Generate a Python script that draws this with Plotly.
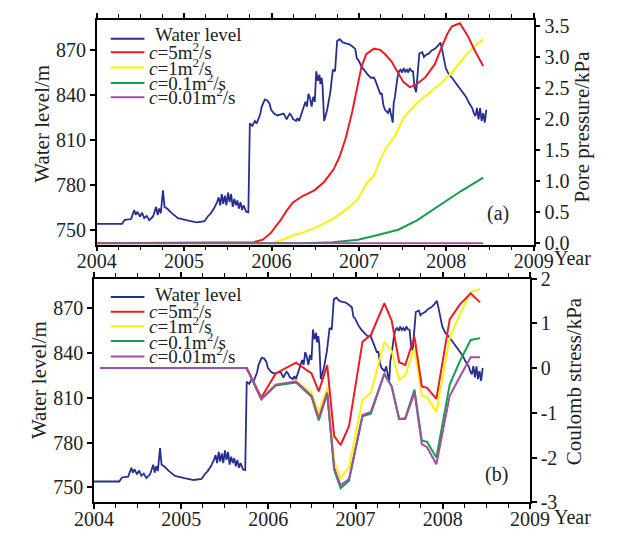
import plotly.graph_objects as go

W, H = 622, 542
FONT = "Liberation Serif"

# ---------------- data ----------------
wl_year = [2004.00, 2004.29, 2004.322, 2004.393, 2004.429, 2004.447, 2004.465, 2004.494, 2004.519, 2004.544,
           2004.572, 2004.601, 2004.644, 2004.68, 2004.697, 2004.715, 2004.733, 2004.758, 2004.776, 2004.805,
           2004.858, 2004.93, 2005.037, 2005.144, 2005.234, 2005.27, 2005.305, 2005.341, 2005.377, 2005.395,
           2005.413, 2005.431, 2005.448, 2005.466, 2005.484, 2005.502, 2005.52, 2005.538, 2005.556, 2005.574,
           2005.592, 2005.609, 2005.627, 2005.645, 2005.663, 2005.681, 2005.71, 2005.735, 2005.752, 2005.781,
           2005.799, 2005.81, 2005.83, 2005.85, 2005.87, 2005.888, 2005.906, 2005.923, 2005.95, 2005.977,
           2005.995, 2006.03, 2006.066, 2006.102, 2006.138, 2006.155, 2006.173, 2006.191, 2006.209, 2006.227,
           2006.245, 2006.281, 2006.298, 2006.316, 2006.352, 2006.37, 2006.388, 2006.405, 2006.423, 2006.441,
           2006.459, 2006.477, 2006.495, 2006.512, 2006.53, 2006.548, 2006.559, 2006.573, 2006.584, 2006.602,
           2006.637, 2006.673, 2006.702, 2006.727, 2006.751, 2006.78, 2006.816, 2006.85, 2006.887, 2006.923,
           2006.958, 2006.976, 2006.994, 2007.03, 2007.066, 2007.101, 2007.137, 2007.173, 2007.19, 2007.208,
           2007.244, 2007.262, 2007.28, 2007.298, 2007.334, 2007.352, 2007.369, 2007.387, 2007.398, 2007.412,
           2007.441, 2007.459, 2007.476, 2007.495, 2007.512, 2007.53, 2007.548, 2007.565, 2007.583, 2007.601,
           2007.619, 2007.637, 2007.655, 2007.673, 2007.691, 2007.726, 2007.744, 2007.762, 2007.798, 2007.833,
           2007.869, 2007.905, 2007.933, 2007.958, 2007.994, 2008.03, 2008.065, 2008.119, 2008.172, 2008.226,
           2008.262, 2008.297, 2008.315, 2008.333, 2008.351, 2008.369, 2008.387, 2008.404, 2008.422, 2008.44,
           2008.458]
wl_level = [753.9, 753.9, 756.6, 757.1, 763.1, 759.8, 762.0, 758.8, 761.3, 757.7,
            759.2, 756.2, 758.8, 765.2, 759.8, 764.1, 760.9, 776.3, 765.2, 764.1,
            761.0, 757.7, 756.2, 754.9, 755.6, 758.8, 760.9, 764.1, 768.4, 771.6,
            766.3, 773.8, 767.3, 772.7, 766.3, 774.8, 768.4, 773.8, 765.2, 770.6,
            766.3, 769.5, 764.1, 768.4, 763.1, 766.3, 762.0, 761.6, 820.9, 819.4,
            821.5, 822.5, 821.0, 824.0, 826.9, 832.2, 835.4, 836.9, 836.5, 834.3,
            830.1, 827.5, 826.3, 826.9, 827.5, 825.8, 823.7, 825.8, 827.5, 826.3,
            824.0, 822.6, 824.5, 822.6, 829.0, 833.3, 835.4, 832.2, 840.8, 837.6,
            832.2, 838.7, 835.4, 855.8, 849.4, 853.6, 847.2, 851.5, 846.2, 822.6,
            830.1, 841.9, 856.9, 855.8, 876.1, 877.2, 875.1, 874.5, 874.0, 872.5,
            870.8, 864.4, 863.3, 859.0, 855.8, 853.6, 851.5, 851.5, 849.4, 846.2,
            840.8, 840.8, 833.3, 830.1, 827.9, 831.2, 825.8, 821.5, 834.4, 838.7,
            851.5, 855.8, 856.9, 855.0, 857.9, 855.5, 856.9, 855.0, 857.9, 856.0,
            855.8, 845.1, 841.9, 857.9, 867.6, 868.6, 865.4, 866.5, 867.6, 869.7,
            870.8, 872.9, 875.1, 868.6, 857.9, 853.6, 851.5, 847.2, 843.0, 838.7,
            834.4, 831.2, 827.9, 825.8, 831.4, 823.7, 831.2, 822.6, 827.9, 821.5,
            830.1]

# pore pressure (kPa), panel (a)
pp5_year = [2004.0, 2005.0, 2005.8, 2005.9, 2005.995, 2006.05, 2006.102, 2006.17, 2006.245, 2006.352,
            2006.495, 2006.602, 2006.709, 2006.78, 2006.852, 2006.923, 2006.977, 2007.03, 2007.084, 2007.173,
            2007.245, 2007.3, 2007.37, 2007.44, 2007.51, 2007.583, 2007.655, 2007.762, 2007.869, 2007.94,
            2008.012, 2008.065, 2008.155, 2008.244, 2008.333, 2008.422]
pp5 = [0.0, 0.005, 0.02, 0.06, 0.17, 0.28, 0.37, 0.52, 0.66, 0.76,
       0.86, 0.99, 1.19, 1.40, 1.71, 2.12, 2.48, 2.85, 3.05, 3.14,
       3.12, 3.05, 2.94, 2.76, 2.60, 2.52, 2.56, 2.68, 2.89, 3.14,
       3.38, 3.50, 3.55, 3.35, 3.09, 2.86]
pp1_year = [2004.0, 2006.0, 2006.15, 2006.25, 2006.352, 2006.53, 2006.709, 2006.887, 2006.995, 2007.1,
            2007.173, 2007.244, 2007.316, 2007.41, 2007.51, 2007.655, 2007.8, 2007.94, 2008.08, 2008.226,
            2008.333, 2008.422]
pp1 = [0.0, 0.0, 0.07, 0.13, 0.17, 0.27, 0.40, 0.58, 0.73, 0.99,
       1.09, 1.35, 1.55, 1.72, 2.02, 2.25, 2.42, 2.58, 2.78, 3.04,
       3.19, 3.29]
pp01_year = [2004.0, 2006.3, 2006.7, 2006.99, 2007.17, 2007.45, 2007.665, 2007.95, 2008.165, 2008.422]
pp01 = [0.0, 0.0, 0.02, 0.06, 0.12, 0.22, 0.37, 0.63, 0.84, 1.06]
pp001_year = [2004.0, 2008.422]
pp001 = [0.0, 0.0]

# Coulomb stress (kPa), panel (b)
cs_year = [2004.07, 2005.752, 2005.92, 2006.085, 2006.318, 2006.495, 2006.578, 2006.675, 2006.755, 2006.829,
           2006.925, 2007.08, 2007.176, 2007.33, 2007.415, 2007.5, 2007.57, 2007.676, 2007.76, 2007.82,
           2007.927, 2008.08, 2008.195, 2008.32, 2008.428]
cs5 = [0.0, 0.0, -0.66, -0.12, 0.12, -0.12, -0.52, 0.06, -1.52, -1.72,
       -1.30, 0.59, 0.74, 1.45, 1.06, 0.13, 0.07, 0.70, -0.41, -0.44,
       -0.69, 1.09, 1.42, 1.67, 1.47]
cs1 = [0.0, 0.0, -0.68, -0.37, -0.29, -0.55, -1.00, -0.44, -2.09, -2.45,
       -2.22, -0.71, -0.55, 0.59, 0.38, -0.26, -0.16, 0.45, -0.62, -0.65,
       -0.98, 0.67, 1.20, 1.70, 1.77]
cs01 = [0.0, 0.0, -0.70, -0.39, -0.32, -0.64, -1.17, -0.57, -2.28, -2.69,
        -2.52, -1.08, -1.02, -0.13, -0.42, -1.14, -1.12, -0.48, -1.62, -1.65,
        -2.00, -0.37, 0.15, 0.63, 0.67]
cs001 = [0.0, 0.0, -0.69, -0.37, -0.30, -0.62, -1.12, -0.55, -2.23, -2.62,
         -2.48, -1.05, -0.98, -0.12, -0.41, -1.14, -1.14, -0.55, -1.70, -1.77,
         -2.15, -0.62, -0.20, 0.24, 0.24]

series_names = ["Water level", "<i>c</i>=5m<sup>2</sup>/s", "<i>c</i>=1m<sup>2</sup>/s",
                "<i>c</i>=0.1m<sup>2</sup>/s", "<i>c</i>=0.01m<sup>2</sup>/s"]
colors = ["#262f8f", "#ec1c24", "#fff200", "#13a04c", "#a24f9f"]

year_ticks = [2004, 2005, 2006, 2007, 2008, 2009]
year_labels = ["2004", "2005", "2006", "2007", "2008", "2009"]
wl_ticks = [750, 780, 810, 840, 870]
pp_ticks = [0, 0.5, 1.0, 1.5, 2.0, 2.5, 3.0, 3.5]
pp_labels = ["0.0", "0.5", "1.0", "1.5", "2.0", "2.5", "3.0", "3.5"]
cs_ticks = [-3, -2, -1, 0, 1, 2]
cs_labels = ["-3", "-2", "-1", "0", "1", "2"]


def px(x, y):
    return x / W, 1 - y / H


fig = go.Figure()

# panel (a)
fig.add_trace(go.Scatter(x=wl_year, y=wl_level, mode="lines", line=dict(color=colors[0], width=1.8),
                         xaxis="x", yaxis="y", showlegend=False))
for yrs, vals, col in [(pp1_year, pp1, colors[2]), (pp5_year, pp5, colors[1]),
                       (pp01_year, pp01, colors[3]), (pp001_year, pp001, colors[4])]:
    fig.add_trace(go.Scatter(x=yrs, y=vals, mode="lines", line=dict(color=col, width=2),
                             xaxis="x", yaxis="y2", showlegend=False))

# panel (b)
fig.add_trace(go.Scatter(x=wl_year, y=wl_level, mode="lines", line=dict(color=colors[0], width=1.8),
                         xaxis="x2", yaxis="y3", showlegend=False))
for vals, col in [(cs1, colors[2]), (cs5, colors[1]), (cs01, colors[3]), (cs001, colors[4])]:
    fig.add_trace(go.Scatter(x=cs_year, y=vals, mode="lines", line=dict(color=col, width=2),
                             xaxis="x2", yaxis="y4", showlegend=False))

tickfont = dict(family=FONT, size=20, color="#222")
common = dict(showline=True, linecolor="black", linewidth=1.5, ticks="outside", tickwidth=1.5,
              ticklen=5, tickcolor="black", showgrid=False, zeroline=False, tickfont=tickfont,
              layer="below traces")

xa_dom = [82 / W, 549 / W]
ya_dom = [1 - 243.5 / H, 1 - 9.5 / H]
xb_dom = [79 / W, 545 / W]
yb_dom = [1 - 512 / H, 1 - 279 / H]

xcommon = dict(common, range=[2004, 2009], tickvals=year_ticks, ticktext=year_labels, mirror="ticks",
               ticklabelstandoff=-7,
               minor=dict(dtick=0.25, tick0=2004, ticks="outside", ticklen=4, tickwidth=1.2, tickcolor="black"))

fig.update_layout(
    width=W, height=H, margin=dict(l=0, r=0, t=0, b=0),
    paper_bgcolor="white", plot_bgcolor="white",
    xaxis=dict(xcommon, domain=xa_dom, anchor="y"),
    yaxis=dict(common, domain=ya_dom, anchor="x", range=[740, 890], tickvals=wl_ticks),
    yaxis2=dict(common, overlaying="y", side="right", anchor="x", range=[-0.02, 3.6],
                tickvals=pp_ticks, ticktext=pp_labels),
    xaxis2=dict(xcommon, domain=xb_dom, anchor="y3"),
    yaxis3=dict(common, domain=yb_dom, anchor="x2", range=[740, 890], tickvals=wl_ticks),
    yaxis4=dict(common, overlaying="y3", side="right", anchor="x2", range=[-3, 2],
                tickvals=cs_ticks, ticktext=cs_labels),
)

ann = []
shapes = []


def add_text(x, y, text, size=21, angle=0, xanchor="center"):
    ax, ay = px(x, y)
    ann.append(dict(x=ax, y=ay, xref="paper", yref="paper", text=text, showarrow=False,
                    textangle=angle, xanchor=xanchor, yanchor="middle",
                    font=dict(family=FONT, size=size, color="#222")))


# axis titles
add_text(24, 117, "Water level/m", angle=-90)
add_text(601, 120, "Pore pressure/kPa", angle=-90)
add_text(21, 385, "Water level/m", angle=-90)
add_text(592, 386, "Coulomb stress/kPa", angle=-90)
add_text(590, 257, "Year", size=20)
add_text(590, 527, "Year", size=20)
add_text(511, 211, "(a)", size=20)
add_text(509, 483, "(b)", size=20)

# legends
leg_a_line = [29, 43, 59, 75, 90]
leg_a_text = [25, 42, 58, 74, 89]
leg_b_line = [298, 313.5, 328.5, 344, 360]
leg_b_text = [295, 312, 327.5, 343.5, 359]
for lines, texts in [(leg_a_line, leg_a_text), (leg_b_line, leg_b_text)]:
    for i, name in enumerate(series_names):
        x0, y0 = px(97, lines[i])
        x1, _ = px(133, lines[i])
        shapes.append(dict(type="line", xref="paper", yref="paper", x0=x0, x1=x1, y0=y0, y1=y0,
                           line=dict(color=colors[i], width=2)))
        add_text(142 if i == 0 else 136, texts[i], name, size=19, xanchor="left")

fig.update_layout(annotations=ann, shapes=shapes)
fig.write_html("out.html")
